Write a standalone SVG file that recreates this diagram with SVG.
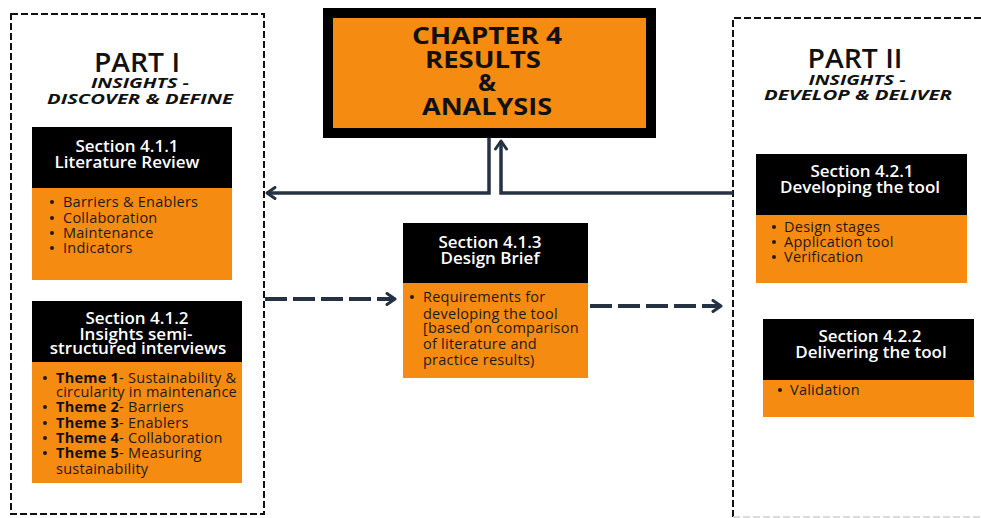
<svg xmlns="http://www.w3.org/2000/svg" width="981" height="518" viewBox="0 0 981 518">
<defs>
<style>
.frame{fill:none;stroke:#111;stroke-width:2;stroke-dasharray:7 3}
.hd{fill:#000}
.bd{fill:#F68B12}
.title{font-family:"Open Sans","Liberation Sans",sans-serif;font-weight:600;font-size:17px;fill:#fff;text-anchor:middle}
.body{font-family:"Open Sans","Liberation Sans",sans-serif;font-weight:500;font-size:14.5px;letter-spacing:0.25px;fill:#1e1a16}
.dot{fill:#1e1a16}
.b{font-weight:700;fill:#111}
.part{font-family:"Open Sans","Liberation Sans",sans-serif;font-weight:600;font-size:27px;fill:#111;text-anchor:middle}
.sub{font-family:"Open Sans","Liberation Sans",sans-serif;font-weight:700;font-style:italic;font-size:15px;fill:#111;text-anchor:middle}
.chap{font-family:"Open Sans","Liberation Sans",sans-serif;font-weight:700;font-size:24px;fill:#111;text-anchor:middle}
.conn{fill:none;stroke:#253244;stroke-width:3.5}
.dash{fill:none;stroke:#253244;stroke-width:4;stroke-dasharray:22 6}
</style>
<marker id="chev" viewBox="0 0 12 14" refX="10" refY="7" markerWidth="12" markerHeight="14" markerUnits="userSpaceOnUse" orient="auto">
<path d="M2,1.5 L10,7 L2,12.5" fill="none" stroke="#253244" stroke-width="3" stroke-linecap="round" stroke-linejoin="round" stroke-dasharray="none"/>
</marker>
</defs>
<rect width="981" height="518" fill="#fff"/>

<g id="part1">
<rect class="frame" x="11" y="14" width="253" height="500"/>
<text class="part" x="137" y="72" textLength="86" lengthAdjust="spacingAndGlyphs">PART I</text>
<text class="sub" x="140" y="88" textLength="98" lengthAdjust="spacingAndGlyphs">INSIGHTS -</text>
<text class="sub" x="140" y="104" textLength="186" lengthAdjust="spacingAndGlyphs">DISCOVER &amp; DEFINE</text>
</g>

<g id="part2">
<path class="frame" d="M733,517 V18 H990"/>
<path d="M733,517 H990" fill="none" stroke="#d0d0d0" stroke-width="1.5" stroke-dasharray="7 3"/>
<text class="part" x="855" y="68" textLength="95" lengthAdjust="spacingAndGlyphs">PART II</text>
<text class="sub" x="857" y="85" textLength="97" lengthAdjust="spacingAndGlyphs">INSIGHTS -</text>
<text class="sub" x="858" y="100" textLength="188" lengthAdjust="spacingAndGlyphs">DEVELOP &amp; DELIVER</text>
</g>

<g id="chapter4">
<rect x="328" y="13" width="323" height="120" fill="#F68B12" stroke="#000" stroke-width="10"/>
<text class="chap" x="487" y="44" textLength="150" lengthAdjust="spacingAndGlyphs">CHAPTER 4</text>
<text class="chap" x="483" y="68" textLength="116" lengthAdjust="spacingAndGlyphs">RESULTS</text>
<text class="chap" x="487" y="91">&amp;</text>
<text class="chap" x="487" y="115" textLength="130" lengthAdjust="spacingAndGlyphs">ANALYSIS</text>
</g>

<g id="s411">
<rect class="hd" x="32" y="127" width="200" height="61"/>
<rect class="bd" x="32" y="188" width="200" height="92"/>
<text class="title" x="127" y="152">Section 4.1.1</text>
<text class="title" x="127" y="168">Literature Review</text>
<circle class="dot" cx="52" cy="202" r="2"/><circle class="dot" cx="52" cy="218" r="2"/><circle class="dot" cx="52" cy="233" r="2"/><circle class="dot" cx="52" cy="248" r="2"/>
<g class="body">
<text x="63" y="207">Barriers &amp; Enablers</text>
<text x="63" y="223">Collaboration</text>
<text x="63" y="238">Maintenance</text>
<text x="63" y="253">Indicators</text>
</g>
</g>

<g id="s412">
<rect class="hd" x="32" y="301" width="210" height="61"/>
<rect class="bd" x="32" y="362" width="210" height="121"/>
<text class="title" x="137" y="324">Section 4.1.2</text>
<text class="title" x="136" y="340">Insights semi-</text>
<text class="title" x="138" y="354">structured interviews</text>
<circle class="dot" cx="45" cy="378" r="2"/><circle class="dot" cx="45" cy="407" r="2"/><circle class="dot" cx="45" cy="423" r="2"/><circle class="dot" cx="45" cy="438" r="2"/><circle class="dot" cx="45" cy="453" r="2"/>
<g class="body">
<text x="56" y="383"><tspan class="b">Theme 1</tspan>- Sustainability &amp;</text>
<text x="56" y="397">circularity in maintenance</text>
<text x="56" y="412"><tspan class="b">Theme 2</tspan>- Barriers</text>
<text x="56" y="428"><tspan class="b">Theme 3</tspan>- Enablers</text>
<text x="56" y="443"><tspan class="b">Theme 4</tspan>- Collaboration</text>
<text x="56" y="458"><tspan class="b">Theme 5</tspan>- Measuring</text>
<text x="56" y="474">sustainability</text>
</g>
</g>

<g id="s413">
<rect class="hd" x="403" y="223" width="185" height="60"/>
<rect class="bd" x="403" y="283" width="185" height="95"/>
<text class="title" x="490" y="248">Section 4.1.3</text>
<text class="title" x="490" y="264">Design Brief</text>
<circle class="dot" cx="412" cy="297" r="2"/>
<g class="body">
<text x="423" y="302">Requirements for</text>
<text x="423" y="319">developing the tool</text>
<text x="423" y="333">[based on comparison</text>
<text x="423" y="349">of literature and</text>
<text x="423" y="365">practice results)</text>
</g>
</g>

<g id="s421">
<rect class="hd" x="756" y="154" width="211" height="61"/>
<rect class="bd" x="756" y="215" width="211" height="68"/>
<text class="title" x="862" y="177">Section 4.2.1</text>
<text class="title" x="860" y="193">Developing the tool</text>
<circle class="dot" cx="774" cy="227" r="2"/><circle class="dot" cx="774" cy="242" r="2"/><circle class="dot" cx="774" cy="257" r="2"/>
<g class="body">
<text x="784" y="232">Design stages</text>
<text x="784" y="247">Application tool</text>
<text x="784" y="262">Verification</text>
</g>
</g>

<g id="s422">
<rect class="hd" x="763" y="319" width="211" height="61"/>
<rect class="bd" x="763" y="380" width="211" height="37"/>
<text class="title" x="870" y="342">Section 4.2.2</text>
<text class="title" x="871" y="358">Delivering the tool</text>
<circle class="dot" cx="780" cy="390" r="2"/>
<g class="body">
<text x="790" y="395">Validation</text>
</g>
</g>

<g id="connectors">
<path class="conn" d="M489,138 V193 H267" marker-end="url(#chev)"/>
<path class="conn" d="M733,193 H501 V141" marker-end="url(#chev)"/>
<path class="dash" d="M265,299 H395" marker-end="url(#chev)"/>
<path class="dash" d="M590,306 H721" marker-end="url(#chev)"/>
</g>
</svg>
